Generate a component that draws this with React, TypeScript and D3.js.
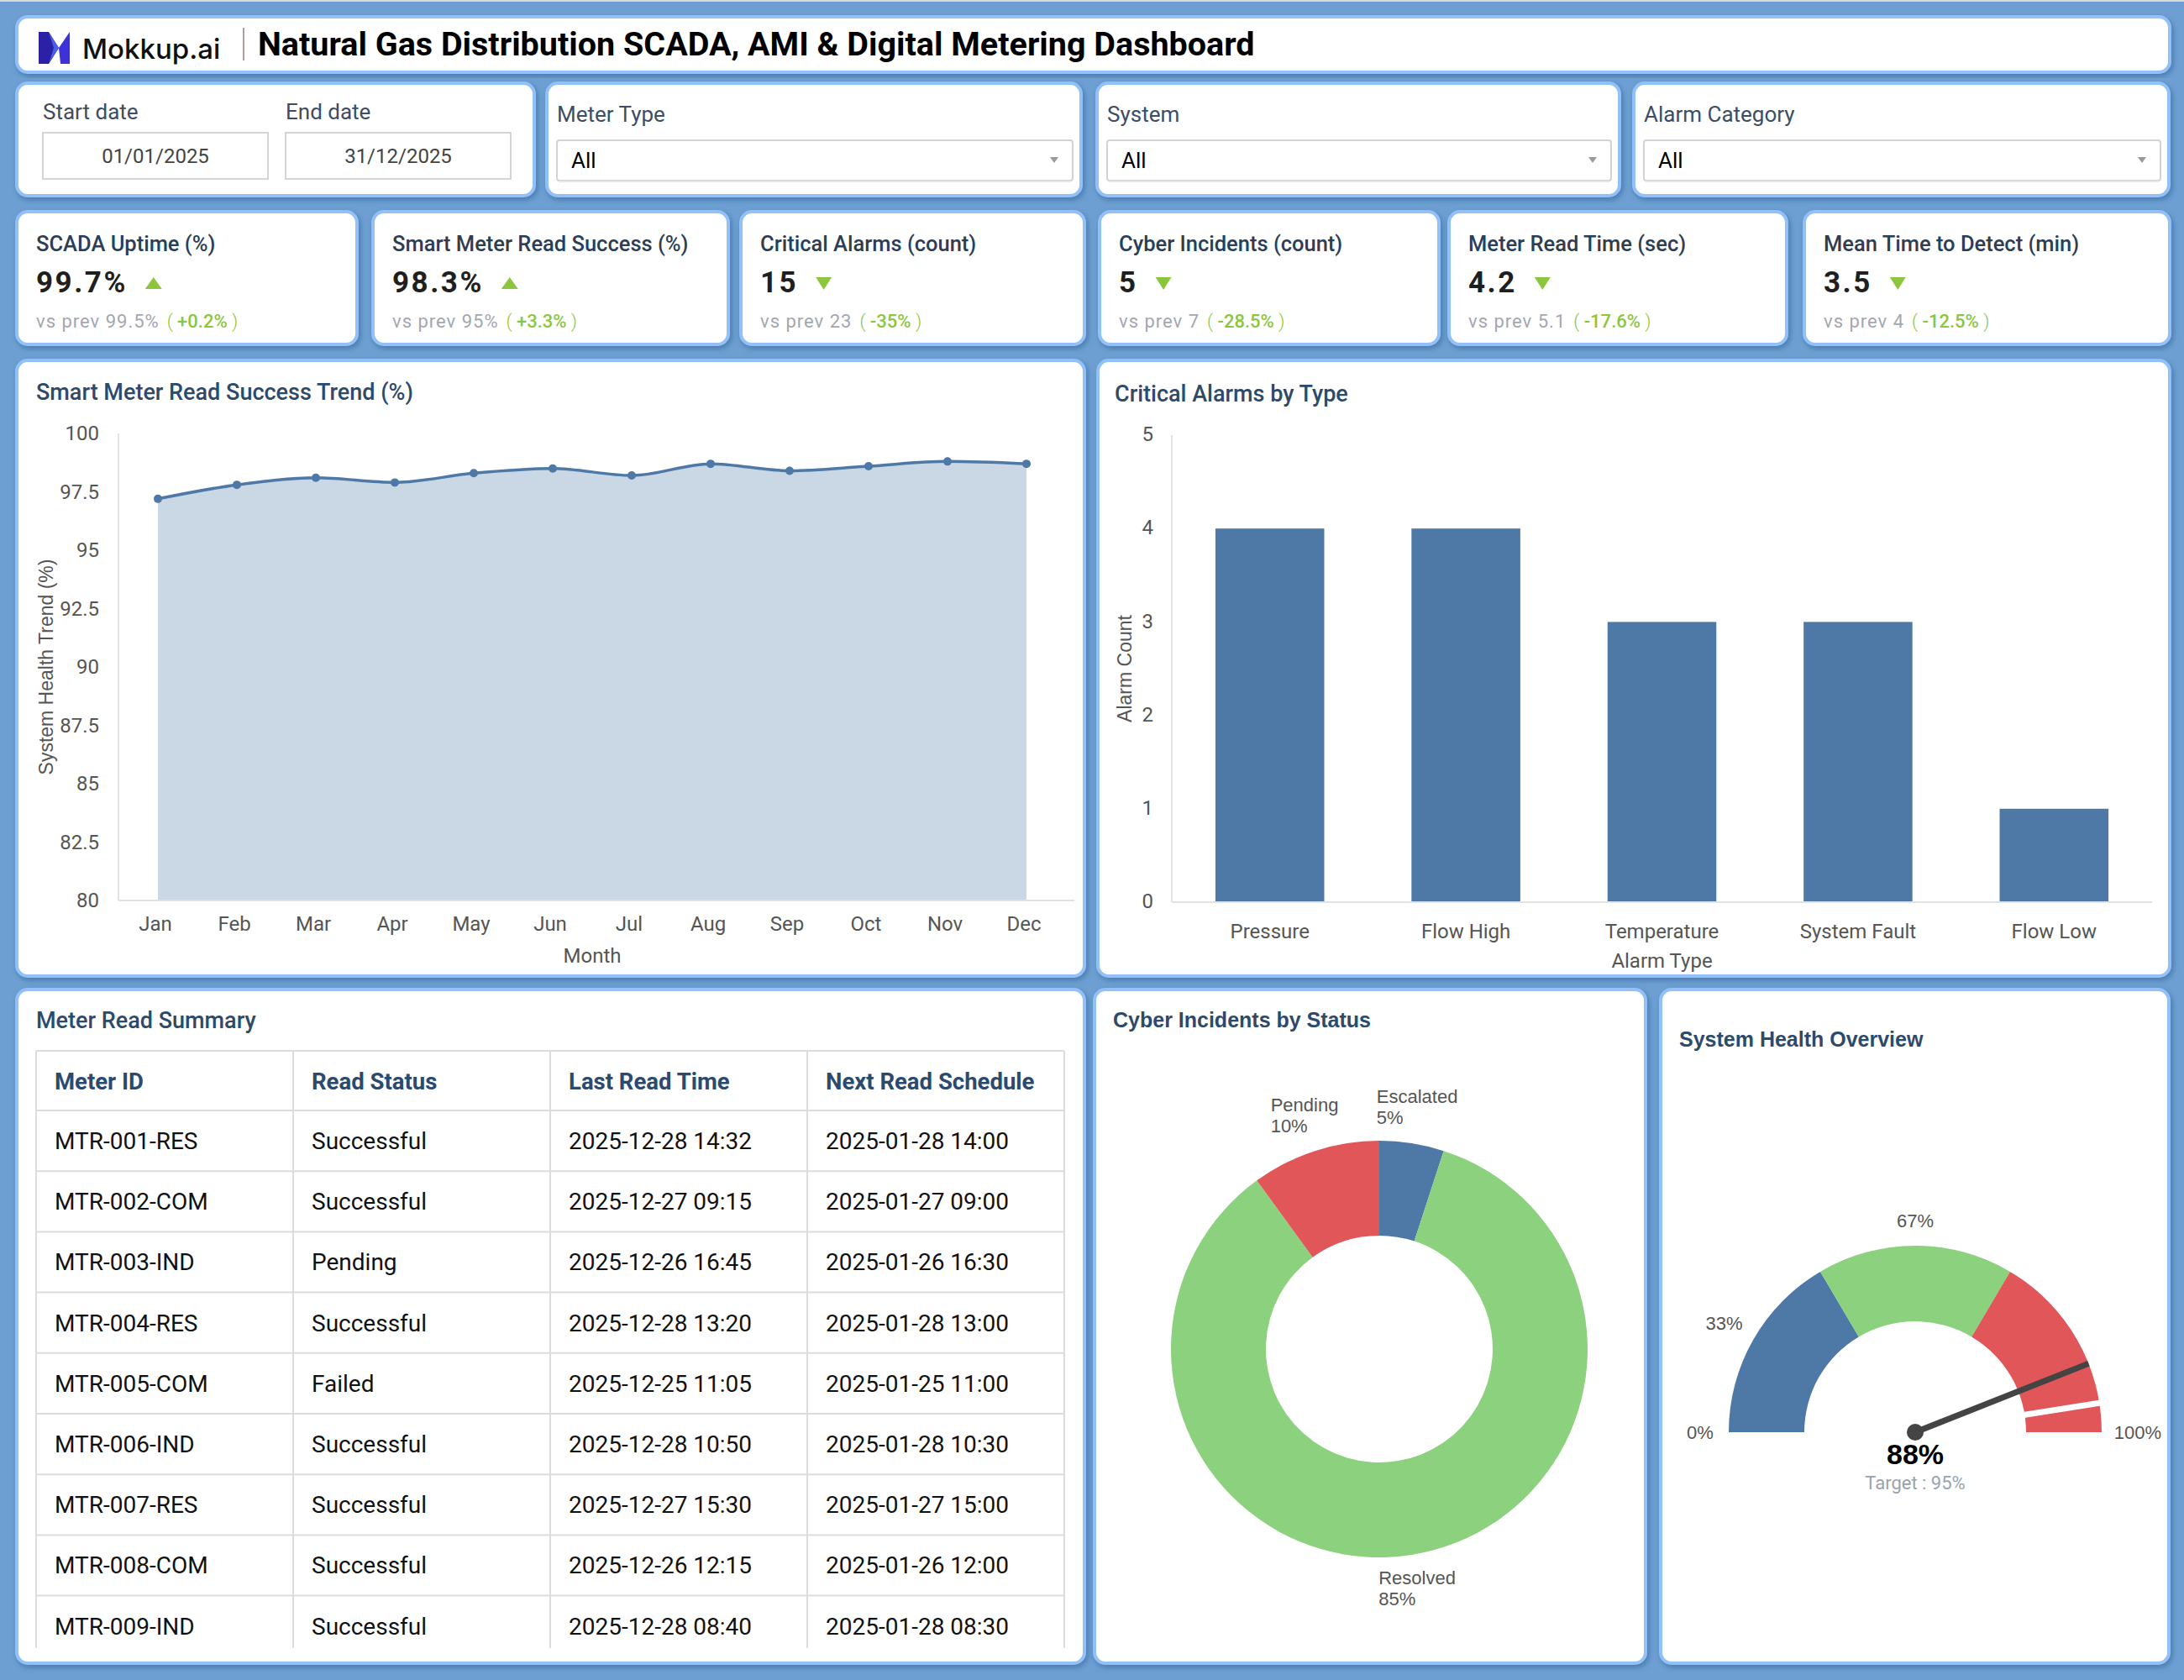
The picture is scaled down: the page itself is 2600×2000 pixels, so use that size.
"use client"
import React, { useEffect, useRef } from 'react';
import * as d3 from 'd3';

// ---------- data ----------
const months = ['Jan', 'Feb', 'Mar', 'Apr', 'May', 'Jun', 'Jul', 'Aug', 'Sep', 'Oct', 'Nov', 'Dec'];
const readSuccessTrend = [97.2, 97.8, 98.1, 97.9, 98.3, 98.5, 98.2, 98.7, 98.4, 98.6, 98.8, 98.7];
const trendTicks = [80, 82.5, 85, 87.5, 90, 92.5, 95, 97.5, 100];

const alarmTypes = ['Pressure', 'Flow High', 'Temperature', 'System Fault', 'Flow Low'];
const alarmCounts = [4, 4, 3, 3, 1];
const alarmTicks = [0, 1, 2, 3, 4, 5];

const incidentStatus = ['Escalated', 'Resolved', 'Pending'];
const incidentShare = [5, 85, 10];

const healthBandEdges = [0, 33, 67, 100];
const healthValue = 88;
const healthTarget = 95;

const kpiTitles = ['SCADA Uptime (%)', 'Smart Meter Read Success (%)', 'Critical Alarms (count)', 'Cyber Incidents (count)', 'Meter Read Time (sec)', 'Mean Time to Detect (min)'];
const kpiValues = ['99.7%', '98.3%', '15', '5', '4.2', '3.5'];
const kpiPrev = ['99.5%', '95%', '23', '7', '5.1', '4'];
const kpiDelta = ['+0.2%', '+3.3%', '-35%', '-28.5%', '-17.6%', '-12.5%'];
const kpiUp = [true, true, false, false, false, false];

const dateLabels = ['Start date', 'End date'];
const dateValues = ['01/01/2025', '31/12/2025'];
const filterLabels = ['Meter Type', 'System', 'Alarm Category'];
const filterValues = ['All', 'All', 'All'];

const tableHeaders = ['Meter ID', 'Read Status', 'Last Read Time', 'Next Read Schedule'];
const meterIds = ['MTR-001-RES', 'MTR-002-COM', 'MTR-003-IND', 'MTR-004-RES', 'MTR-005-COM', 'MTR-006-IND', 'MTR-007-RES', 'MTR-008-COM', 'MTR-009-IND'];
const readStatuses = ['Successful', 'Successful', 'Pending', 'Successful', 'Failed', 'Successful', 'Successful', 'Successful', 'Successful'];
const lastReadTimes = ['2025-12-28 14:32', '2025-12-27 09:15', '2025-12-26 16:45', '2025-12-28 13:20', '2025-12-25 11:05', '2025-12-28 10:50', '2025-12-27 15:30', '2025-12-26 12:15', '2025-12-28 08:40'];
const nextReadSchedules = ['2025-01-28 14:00', '2025-01-27 09:00', '2025-01-26 16:30', '2025-01-28 13:00', '2025-01-25 11:00', '2025-01-28 10:30', '2025-01-27 15:00', '2025-01-26 12:00', '2025-01-28 08:30'];

// ---------- look ----------
const BG = '#6e9fd2';
const BORDER = '#92c0f8';
const TITLE = '#2d4a6b';
const BLUE = '#4e79a7';
const GREEN = '#8cd17d';
const RED = '#e15759';
const KPI_GREEN = '#8cc63f';
const ROBOTO = 'Roboto, sans-serif';
const ARIAL = '"Liberation Sans", Arial, sans-serif';

interface Box { x: number; y: number; w: number; h: number; }

const headerBox: Box = { x: 18, y: 18, w: 2567, h: 70 };
const dateBox: Box = { x: 18, y: 97, w: 620, h: 138 };
const filterBoxes: Box[] = [
    { x: 649, y: 97, w: 640, h: 138 },
    { x: 1304, y: 97, w: 626, h: 138 },
    { x: 1943, y: 97, w: 641, h: 138 },
];
const kpiBoxes: Box[] = [
    { x: 18, y: 250, w: 409, h: 162 },
    { x: 442, y: 250, w: 427, h: 162 },
    { x: 880, y: 250, w: 413, h: 162 },
    { x: 1307, y: 250, w: 408, h: 162 },
    { x: 1723, y: 250, w: 406, h: 162 },
    { x: 2146, y: 250, w: 439, h: 162 },
];
const trendBox: Box = { x: 18, y: 427, w: 1275, h: 737 };
const alarmBox: Box = { x: 1305, y: 427, w: 1280, h: 737 };
const tableBox: Box = { x: 18, y: 1176, w: 1275, h: 806 };
const donutBox: Box = { x: 1301, y: 1176, w: 660, h: 806 };
const gaugeBox: Box = { x: 1975, y: 1176, w: 609, h: 806 };

const Panel: React.FC<{ box: Box }> = ({ box }) => (
    <rect x={box.x + 2} y={box.y + 2} width={box.w - 4} height={box.h - 4} rx={13}
        fill="#fff" stroke={BORDER} strokeWidth={4} filter="url(#panelShadow)" />
);

const KpiCard: React.FC<{ box: Box; i: number }> = ({ box, i }) => {
    const ref = useRef<SVGGElement | null>(null);

    useEffect(() => {
        const g = d3.select(ref.current);
        g.selectAll('*').remove();
        const left = box.x + 25;

        g.append('text')
            .attr('x', left).attr('y', box.y + 49)
            .attr('font-family', ROBOTO).attr('font-size', 25.5).attr('font-weight', 500)
            .attr('fill', '#2c3e55')
            .text(kpiTitles[i]);

        const value = g.append('text')
            .attr('x', left).attr('y', box.y + 98)
            .attr('font-family', ROBOTO).attr('font-size', 35).attr('font-weight', 700)
            .attr('letter-spacing', 2.5)
            .attr('fill', '#1f1f1f')
            .text(kpiValues[i]);
        const vw = (value.node() as SVGTextElement).getComputedTextLength();

        // trend arrow
        const tx = left + vw + 21;
        const ty = box.y + 87;
        const tri = kpiUp[i]
            ? `M${tx},${ty + 7} L${tx + 20},${ty + 7} L${tx + 10},${ty - 7} Z`
            : `M${tx},${ty - 7} L${tx + 19},${ty - 7} L${tx + 9.5},${ty + 8} Z`;
        g.append('path').attr('d', tri).attr('fill', KPI_GREEN);

        const prev = g.append('text')
            .attr('x', left).attr('y', box.y + 140)
            .attr('font-family', ROBOTO).attr('font-size', 22)
            .attr('letter-spacing', 1)
            .attr('fill', '#a3a7b0')
            .text(`vs prev ${kpiPrev[i]}`);
        const pw = (prev.node() as SVGTextElement).getComputedTextLength();

        const delta = g.append('text')
            .attr('x', left + pw + 9).attr('y', box.y + 140)
            .attr('font-family', ROBOTO).attr('font-size', 22)
            .attr('fill', KPI_GREEN);
        delta.append('tspan').attr('font-weight', 300).text('( ');
        delta.append('tspan').attr('font-weight', 500).text(kpiDelta[i]);
        delta.append('tspan').attr('font-weight', 300).text(' )');
    }, [box, i]);

    return <g ref={ref} />;
};

const TrendChart: React.FC<{ box: Box }> = ({ box }) => {
    const ref = useRef<SVGGElement | null>(null);

    useEffect(() => {
        const g = d3.select(ref.current);
        g.selectAll('*').remove();
        const margin = { top: 89, right: 24, bottom: 92, left: 123 };
        const left = box.x + margin.left;
        const right = box.x + box.w - margin.right;
        const bottom = box.y + box.h - margin.bottom;
        const top = box.y + margin.top;

        const xScale = d3.scaleBand().domain(months).range([left, right]).padding(0);
        const yScale = d3.scaleLinear().domain([80, 100]).range([bottom, top]);
        const cx = (m: string) => xScale(m)! + xScale.bandwidth() / 2;
        const points = months.map((m, i) => ({ m, v: readSuccessTrend[i] }));

        g.append('text')
            .attr('x', box.x + 25).attr('y', box.y + 49)
            .attr('font-family', ROBOTO).attr('font-size', 27).attr('font-weight', 500)
            .attr('fill', TITLE)
            .text('Smart Meter Read Success Trend (%)');

        const area = d3.area<{ m: string; v: number }>()
            .x((d) => cx(d.m))
            .y0(bottom)
            .y1((d) => yScale(d.v))
            .curve(d3.curveMonotoneX);
        const line = d3.line<{ m: string; v: number }>()
            .x((d) => cx(d.m))
            .y((d) => yScale(d.v))
            .curve(d3.curveMonotoneX);

        g.append('path').datum(points).attr('d', area).attr('fill', BLUE).attr('fill-opacity', 0.3);

        // axis lines
        g.append('line').attr('x1', left).attr('x2', left).attr('y1', top).attr('y2', bottom)
            .attr('stroke', '#e2e2e2').attr('stroke-width', 2);
        g.append('line').attr('x1', left).attr('x2', right + 10).attr('y1', bottom).attr('y2', bottom)
            .attr('stroke', '#e2e2e2').attr('stroke-width', 2);

        g.append('path').datum(points).attr('d', line)
            .attr('fill', 'none').attr('stroke', BLUE).attr('stroke-width', 3.5);
        g.selectAll('circle.pt').data(points).enter().append('circle')
            .attr('cx', (d) => cx(d.m)).attr('cy', (d) => yScale(d.v)).attr('r', 5)
            .attr('fill', BLUE);

        const yAxis = g.append('g').attr('transform', `translate(${left},0)`)
            .call(d3.axisLeft(yScale).tickValues(trendTicks).tickSize(0).tickPadding(23).tickFormat((d) => String(d)));
        const xAxis = g.append('g').attr('transform', `translate(0,${bottom})`)
            .call(d3.axisBottom(xScale).tickSize(0).tickPadding(19));
        [yAxis, xAxis].forEach((a) => {
            a.select('.domain').remove();
            a.selectAll('text').attr('font-family', ROBOTO).attr('font-size', 24).attr('fill', '#555');
        });
        xAxis.selectAll('text').attr('dx', -3);

        g.append('text')
            .attr('x', (left + right) / 2).attr('y', bottom + 74)
            .attr('text-anchor', 'middle')
            .attr('font-family', ROBOTO).attr('font-size', 24).attr('fill', '#555')
            .text('Month');
        g.append('text')
            .attr('transform', `translate(${box.x + 45},${(top + bottom) / 2}) rotate(-90)`)
            .attr('text-anchor', 'middle')
            .attr('font-family', ARIAL).attr('font-size', 23).attr('fill', '#555')
            .text('System Health Trend (%)');
    }, [box]);

    return <g ref={ref} />;
};

const AlarmChart: React.FC<{ box: Box }> = ({ box }) => {
    const ref = useRef<SVGGElement | null>(null);

    useEffect(() => {
        const g = d3.select(ref.current);
        g.selectAll('*').remove();
        const margin = { top: 91, right: 23, bottom: 90, left: 90 };
        const left = box.x + margin.left;
        const right = box.x + box.w - margin.right;
        const bottom = box.y + box.h - margin.bottom;
        const top = box.y + margin.top;

        const xScale = d3.scaleBand().domain(alarmTypes).range([left, right])
            .paddingInner(0.445).paddingOuter(0.2225);
        const yScale = d3.scaleLinear().domain([0, 5]).range([bottom, top]);

        g.append('text')
            .attr('x', box.x + 22).attr('y', box.y + 51)
            .attr('font-family', ROBOTO).attr('font-size', 27).attr('font-weight', 500)
            .attr('fill', TITLE)
            .text('Critical Alarms by Type');

        g.append('line').attr('x1', left).attr('x2', left).attr('y1', top).attr('y2', bottom)
            .attr('stroke', '#e2e2e2').attr('stroke-width', 2);

        g.selectAll('rect.bar').data(alarmTypes).enter().append('rect')
            .attr('x', (d) => xScale(d)!)
            .attr('width', xScale.bandwidth())
            .attr('y', (d, i) => yScale(alarmCounts[i]))
            .attr('height', (d, i) => bottom - yScale(alarmCounts[i]))
            .attr('fill', BLUE);

        g.append('line').attr('x1', left).attr('x2', right).attr('y1', bottom).attr('y2', bottom)
            .attr('stroke', '#e2e2e2').attr('stroke-width', 2);

        const yAxis = g.append('g').attr('transform', `translate(${left},0)`)
            .call(d3.axisLeft(yScale).tickValues(alarmTicks).tickSize(0).tickPadding(22).tickFormat((d) => String(d)));
        const xAxis = g.append('g').attr('transform', `translate(0,${bottom})`)
            .call(d3.axisBottom(xScale).tickSize(0).tickPadding(26));
        [yAxis, xAxis].forEach((a) => {
            a.select('.domain').remove();
            a.selectAll('text').attr('font-family', ROBOTO).attr('font-size', 24).attr('fill', '#555');
        });
        yAxis.selectAll('text').attr('dy', '0.28em');

        g.append('text')
            .attr('x', (left + right) / 2).attr('y', bottom + 78)
            .attr('text-anchor', 'middle')
            .attr('font-family', ROBOTO).attr('font-size', 24).attr('fill', '#555')
            .text('Alarm Type');
        g.append('text')
            .attr('transform', `translate(${box.x + 42},${(top + bottom) / 2}) rotate(-90)`)
            .attr('text-anchor', 'middle')
            .attr('font-family', ARIAL).attr('font-size', 23).attr('fill', '#555')
            .text('Alarm Count');
    }, [box]);

    return <g ref={ref} />;
};

const IncidentDonut: React.FC<{ box: Box }> = ({ box }) => {
    const ref = useRef<SVGGElement | null>(null);

    useEffect(() => {
        const g = d3.select(ref.current);
        g.selectAll('*').remove();
        const cx = box.x + 341;
        const cy = box.y + 430;
        const outer = 248;
        const inner = 135;
        const colors = [BLUE, GREEN, RED];

        g.append('text')
            .attr('x', box.x + 24).attr('y', box.y + 47)
            .attr('font-family', ARIAL).attr('font-size', 25).attr('font-weight', 700)
            .attr('fill', TITLE)
            .text('Cyber Incidents by Status');

        const pie = d3.pie<number>().sort(null).value((d) => d);
        const arcs = pie(incidentShare);
        const arc = d3.arc<d3.PieArcDatum<number>>().innerRadius(inner).outerRadius(outer);

        const chart = g.append('g').attr('transform', `translate(${cx},${cy})`);
        chart.selectAll('path').data(arcs).enter().append('path')
            .attr('d', arc)
            .attr('fill', (d, i) => colors[i]);

        // labels: two left-aligned lines, centred horizontally on the mid angle,
        // the block's near edge kept a little outside the ring
        arcs.forEach((a, i) => {
            const mid = (a.startAngle + a.endAngle) / 2;
            const px = Math.sin(mid) * (outer + 40);
            const edgeY = -Math.cos(mid) * (outer + 15);
            const first = edgeY < 0 ? edgeY - 33 : edgeY + 20;
            const label = chart.append('text')
                .attr('font-family', ARIAL).attr('font-size', 22).attr('fill', '#555');
            label.append('tspan').attr('x', 0).attr('y', first).text(incidentStatus[i]);
            label.append('tspan').attr('x', 0).attr('y', first + 25).text(`${incidentShare[i]}%`);
            const w = (label.node() as SVGTextElement).getBBox().width;
            label.selectAll('tspan').attr('x', px - w / 2);
        });
    }, [box]);

    return <g ref={ref} />;
};

const HealthGauge: React.FC<{ box: Box }> = ({ box }) => {
    const ref = useRef<SVGGElement | null>(null);

    useEffect(() => {
        const g = d3.select(ref.current);
        g.selectAll('*').remove();
        const cx = box.x + 305;
        const cy = box.y + 529;
        const outer = 222;
        const inner = 132;
        const colors = [BLUE, GREEN, RED];
        // value -> angle, 0 at left, 100 at right, through the top
        const angle = d3.scaleLinear().domain([0, 100]).range([-Math.PI / 2, Math.PI / 2]);

        g.append('text')
            .attr('x', box.x + 24).attr('y', box.y + 70)
            .attr('font-family', ARIAL).attr('font-size', 25).attr('font-weight', 700)
            .attr('fill', TITLE)
            .text('System Health Overview');

        const chart = g.append('g').attr('transform', `translate(${cx},${cy})`);
        const arc = d3.arc<{ s: number; e: number }>()
            .innerRadius(inner).outerRadius(outer)
            .startAngle((d) => angle(d.s)).endAngle((d) => angle(d.e));
        const bands = d3.pairs(healthBandEdges).map(([s, e]) => ({ s, e }));
        chart.selectAll('path').data(bands).enter().append('path')
            .attr('d', arc).attr('fill', (d, i) => colors[i]);

        // target notch
        const ta = angle(healthTarget);
        chart.append('line')
            .attr('x1', Math.sin(ta) * (inner - 3)).attr('y1', -Math.cos(ta) * (inner - 3))
            .attr('x2', Math.sin(ta) * (outer + 3)).attr('y2', -Math.cos(ta) * (outer + 3))
            .attr('stroke', '#fff').attr('stroke-width', 7);

        // labels: segment labels sit at each segment's middle, ends at the ends
        const labelAt = (v: number, text: string, r: number) => {
            const a = angle(v);
            chart.append('text')
                .attr('x', Math.sin(a) * r).attr('y', -Math.cos(a) * r)
                .attr('text-anchor', 'middle').attr('dominant-baseline', 'central')
                .attr('font-family', ARIAL).attr('font-size', 22).attr('fill', '#555')
                .text(text);
        };
        labelAt(0, `${healthBandEdges[0]}%`, 256);
        labelAt((healthBandEdges[0] + healthBandEdges[1]) / 2, `${healthBandEdges[1]}%`, 262);
        labelAt((healthBandEdges[1] + healthBandEdges[2]) / 2, `${healthBandEdges[2]}%`, 252);
        labelAt(100, `${healthBandEdges[3]}%`, 265);

        // needle
        const va = angle(healthValue);
        chart.append('line')
            .attr('x1', 0).attr('y1', 0)
            .attr('x2', Math.sin(va) * outer).attr('y2', -Math.cos(va) * outer)
            .attr('stroke', '#444').attr('stroke-width', 7);
        chart.append('circle').attr('r', 10).attr('fill', '#444');

        chart.append('text')
            .attr('y', 38).attr('text-anchor', 'middle')
            .attr('font-family', ARIAL).attr('font-size', 34).attr('font-weight', 700)
            .attr('fill', '#000')
            .text(`${healthValue}%`);
        chart.append('text')
            .attr('y', 68).attr('text-anchor', 'middle')
            .attr('font-family', ROBOTO).attr('font-size', 22).attr('fill', '#9aa2ae')
            .text(`Target : ${healthTarget}%`);
    }, [box]);

    return <g ref={ref} />;
};

const MeterTable: React.FC<{ box: Box }> = ({ box }) => {
    const left = box.x + 25;
    const right = box.x + box.w - 26;
    const top = box.y + 75;
    const headH = 71;
    const rowH = 72.2;
    const clipBottom = box.y + 786;
    const col = d3.scaleBand<number>().domain(d3.range(4)).range([left, right]);
    const columns = [meterIds, readStatuses, lastReadTimes, nextReadSchedules];

    return (
        <g>
            <text x={box.x + 25} y={box.y + 48} fontFamily={ROBOTO} fontSize={27} fontWeight={500} fill={TITLE}>
                Meter Read Summary
            </text>
            <clipPath id="tableClip">
                <rect x={left - 2} y={top - 2} width={right - left + 4} height={clipBottom - top + 2} />
            </clipPath>
            <g clipPath="url(#tableClip)">
                {tableHeaders.map((h, c) => (
                    <text key={h} x={col(c)! + 22} y={top + 46} fontFamily={ROBOTO} fontSize={27.5} fontWeight={700} fill="#2c4a6e">
                        {h}
                    </text>
                ))}
                {meterIds.map((id, r) => (
                    <g key={id}>
                        {columns.map((colData, c) => (
                            <text key={c} x={col(c)! + 22} y={top + headH + r * rowH + 46}
                                fontFamily={ROBOTO} fontSize={28} fill="#111">
                                {colData[r]}
                            </text>
                        ))}
                    </g>
                ))}
                {/* grid */}
                {d3.range(meterIds.length + 2).map((r) => {
                    const y = r === 0 ? top : top + headH + (r - 1) * rowH;
                    return <line key={`h${r}`} x1={left} x2={right} y1={y} y2={y} stroke="#dcdcdc" strokeWidth={2} />;
                })}
                {d3.range(5).map((c) => {
                    const x = c < 4 ? col(c)! : right;
                    return <line key={`v${c}`} x1={x} x2={x} y1={top} y2={clipBottom + 20} stroke="#dcdcdc" strokeWidth={2} />;
                })}
            </g>
        </g>
    );
};

const Dropdown: React.FC<{ box: Box; label: string; value: string }> = ({ box, label, value }) => {
    const sx = box.x + 14;
    const sw = box.w - 26;
    const sy = box.y + 70;
    const sh = 48;
    return (
        <g>
            <text x={sx} y={box.y + 48} fontFamily={ROBOTO} fontSize={26} fill="#3d4d63">{label}</text>
            <rect x={sx} y={sy} width={sw} height={sh} rx={3} fill="#fff" stroke="#d2d2d2" strokeWidth={2} />
            <line x1={sx + 2} x2={sx + sw - 2} y1={sy + sh + 1} y2={sy + sh + 1} stroke="#e6e6e6" strokeWidth={2} />
            <text x={sx + 17} y={sy + 33} fontFamily={ROBOTO} fontSize={26} fill="#000">{value}</text>
            <path d={`M${sx + sw - 27},${sy + 20} L${sx + sw - 17},${sy + 20} L${sx + sw - 22},${sy + 27} Z`} fill="#9a9a9a" />
        </g>
    );
};

const App: React.FC = () => {
    useEffect(() => {
        document.body.style.margin = '0';
        document.body.style.overflow = 'hidden';
    }, []);

    const W = 2600;
    const H = 2000;

    return (
        <svg width={W} height={H} style={{ display: 'block', position: 'absolute', left: 0, top: 0 }}>
            <defs>
                <filter id="panelShadow" x="-5%" y="-5%" width="110%" height="115%">
                    <feDropShadow dx={2} dy={3} stdDeviation={3} floodColor="#1f4a7a" floodOpacity={0.45} />
                </filter>
            </defs>
            <rect x={0} y={0} width={W} height={H} fill={BG} />
            <rect x={0} y={0} width={W} height={2} fill="#d9d9d9" />

            {/* header */}
            <Panel box={headerBox} />
            <g transform="translate(46,38)">
                <path d="M0,0 L12,0 L24,19 L12,38 L0,38 Z" fill="#2b20a6" />
                <path d="M24,19 L37,0 L37,38 L26,38 Z" fill="#3d32d8" />
                <path d="M12,0 L24,19 L12,38 L18,19 Z" fill="#4b5ee8" />
            </g>
            <text x={98} y={70} fontFamily="Inter, sans-serif" fontSize={33} fontWeight={500} fill="#111">Mokkup.ai</text>
            <line x1={290} x2={290} y1={33} y2={72} stroke="#9c7b7b" strokeWidth={1.5} />
            <text x={307} y={66} fontFamily={ROBOTO} fontSize={39.5} fontWeight={700} fill="#000">
                Natural Gas Distribution SCADA, AMI &amp; Digital Metering Dashboard
            </text>

            {/* filters */}
            <Panel box={dateBox} />
            {dateLabels.map((l, i) => {
                const x = dateBox.x + (i === 0 ? 33 : 322);
                return (
                    <g key={l}>
                        <text x={x} y={dateBox.y + 45} fontFamily={ROBOTO} fontSize={26} fill="#3d4d63">{l}</text>
                        <rect x={x} y={dateBox.y + 61} width={268} height={55} fill="#fff" stroke="#d4d4d4" strokeWidth={2} />
                        <text x={x + 134} y={dateBox.y + 97} textAnchor="middle" fontFamily={ROBOTO} fontSize={24} fill="#444">
                            {dateValues[i]}
                        </text>
                    </g>
                );
            })}
            {filterBoxes.map((b, i) => (
                <g key={filterLabels[i]}>
                    <Panel box={b} />
                    <Dropdown box={b} label={filterLabels[i]} value={filterValues[i]} />
                </g>
            ))}

            {/* KPI cards */}
            {kpiBoxes.map((b, i) => (
                <g key={kpiTitles[i]}>
                    <Panel box={b} />
                    <KpiCard box={b} i={i} />
                </g>
            ))}

            <Panel box={trendBox} />
            <TrendChart box={trendBox} />
            <Panel box={alarmBox} />
            <AlarmChart box={alarmBox} />

            <Panel box={tableBox} />
            <MeterTable box={tableBox} />
            <Panel box={donutBox} />
            <IncidentDonut box={donutBox} />
            <Panel box={gaugeBox} />
            <HealthGauge box={gaugeBox} />
        </svg>
    );
};

export default App;
